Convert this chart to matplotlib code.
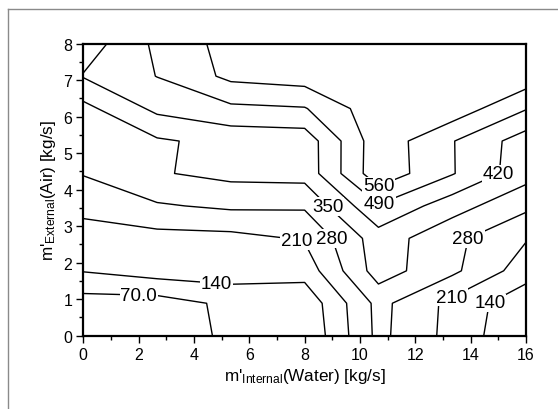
import numpy as np
import matplotlib
matplotlib.use("Agg")
import matplotlib.pyplot as plt
from matplotlib.lines import Line2D
from matplotlib.ticker import MultipleLocator

plt.rcParams['font.family'] = ['Liberation Sans', 'DejaVu Sans']
plt.rcParams['mathtext.fontset'] = 'custom'
plt.rcParams['mathtext.rm'] = 'Liberation Sans'
plt.rcParams['mathtext.it'] = 'Liberation Sans:italic'

# ---- data (grid) ----
water_flow = np.linspace(0, 16, 7)          # m'_Internal (Water) [kg/s]
air_flow = np.linspace(0, 8, 10)            # m'_External (Air) [kg/s]
levels = [70, 140, 210, 280, 350, 420, 490, 560]
level_text = ['70.0', '140', '210', '280', '350', '420', '490', '560']
heat = np.array([
    [35.0, 55.0, 75.0, 78.0, 298.5, 186.5, 77.6],
    [38.5, 37.9, 85.7, 90.0, 301.0, 189.7, 90.5],
    [143.3, 173.0, 178.4, 167.9, 383.6, 295.2, 173.0],
    [178.7, 185.0, 188.6, 216.3, 387.0, 298.0, 215.0],
    [230.0, 272.5, 292.4, 289.5, 483.8, 380.0, 296.0],
    [283.8, 343.8, 370.0, 375.8, 608.0, 494.7, 377.8],
    [300.0, 340.6, 372.0, 378.0, 605.0, 493.7, 384.8],
    [328.7, 437.0, 475.3, 485.3, 606.0, 604.2, 494.0],
    [424.4, 491.6, 577.3, 594.5, 640.0, 630.0, 603.0],
    [380.0, 505.0, 586.8, 620.0, 660.0, 650.0, 640.0],
])

# label anchor points (layout)
label_spots = [(2.0, 1.12), (4.8, 1.42), (7.7, 2.62), (9.05, 2.68),
               (8.85, 3.55), (10.67, 4.1), (10.72, 3.6), (15.0, 4.45),
               (13.9, 2.68), (13.3, 1.1), (14.7, 0.9)]

W, H = 558, 410
fig = plt.figure(figsize=(W / 100, H / 100), dpi=100)
ax = fig.add_axes([83.3 / W, 1 - 336.7 / H, (526 - 83.3) / W, (336.7 - 44.7) / H])

cs = ax.contour(water_flow, air_flow, heat, levels=levels, colors='black',
                linewidths=1.0)
fmt = dict(zip(levels, level_text))
texts = ax.clabel(cs, levels, inline=False, fontsize=13.5, fmt=fmt,
                  manual=label_spots)
for t in texts:
    t.set_rotation(0)
    t.set_bbox(dict(facecolor='white', edgecolor='none', pad=0.6))

ax.set_xlim(0, 16)
ax.set_ylim(0, 8)
ax.xaxis.set_major_locator(MultipleLocator(2))
ax.xaxis.set_minor_locator(MultipleLocator(1))
ax.yaxis.set_major_locator(MultipleLocator(1))
ax.yaxis.set_minor_locator(MultipleLocator(0.5))
ax.tick_params(which='major', direction='out', length=5, width=1.0,
               labelsize=11.5, pad=3, top=False, right=False)
ax.tick_params(which='minor', direction='out', length=3, width=1.0,
               top=False, right=False)
for s in ax.spines.values():
    s.set_linewidth(1.6)

ax.set_xlabel(r"m'$_{\mathrm{Internal}}$(Water) [kg/s]", fontsize=12.3,
              labelpad=3)
ax.set_ylabel(r"m'$_{\mathrm{External}}$(Air) [kg/s]", fontsize=12.3,
              labelpad=4)

# outer frame lines (left and top)
fig.add_artist(Line2D([7.5 / W, 7.5 / W], [0, 1 - 9.5 / H],
                      transform=fig.transFigure, color='#8a8a8a', lw=1.0))
fig.add_artist(Line2D([7.5 / W, 1], [1 - 9.5 / H, 1 - 9.5 / H],
                      transform=fig.transFigure, color='#8a8a8a', lw=1.0))

fig.savefig('out.png', dpi=100)
